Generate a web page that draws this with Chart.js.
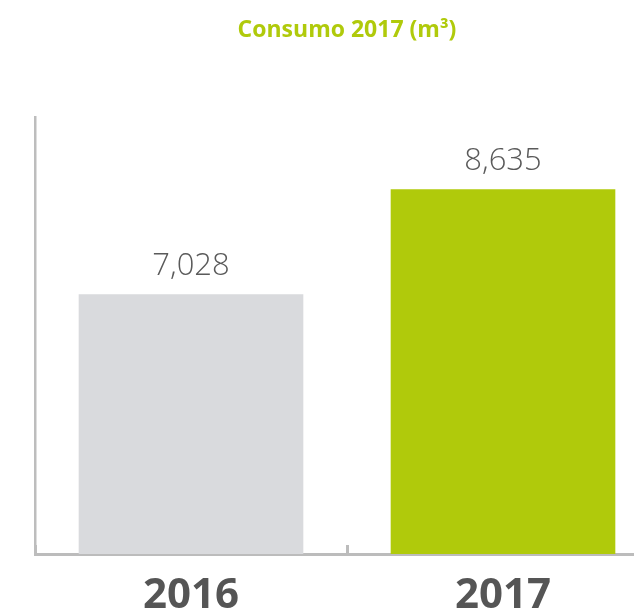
<!DOCTYPE html>
<html>
<head>
<meta charset="utf-8">
<script src="https://cdn.jsdelivr.net/npm/chart.js@4"></script>
<style>
  html, body { margin: 0; padding: 0; background: #fff; overflow: hidden; }
  #wrap { width: 634px; height: 610px; overflow: hidden; position: relative; }
  #wrap canvas { position: absolute; left: 0; top: 0; }
</style>
</head>
<body>
<div id="wrap"><canvas id="chart" width="680" height="610"></canvas></div>
<script>
const titleText = "Consumo 2017 (m³)";
const years = ["2016", "2017"];
const consumo = [7028, 8635];
const barColors = ["#d9dadd", "#b0ca0b"];

// title centred over the plot area + value labels over each bar
const overlay = {
  id: "overlay",
  afterDatasetsDraw(chart) {
    const { ctx, chartArea } = chart;
    ctx.save();
    ctx.textAlign = "center";
    ctx.textBaseline = "alphabetic";
    ctx.fillStyle = "#b0ca0b";
    ctx.font = "bold 23px 'Open Sans'";
    ctx.fillText(titleText, (chartArea.left + chartArea.right) / 2, 37);

    ctx.fillStyle = "#5a5a5a";
    ctx.font = "300 31px 'Open Sans'";
    chart.getDatasetMeta(0).data.forEach((bar, i) => {
      ctx.fillText(consumo[i].toLocaleString("en-US"), bar.x, bar.y - 19);
    });
    ctx.restore();
  }
};

new Chart(document.getElementById("chart"), {
  type: "bar",
  data: {
    labels: years,
    datasets: [{ data: consumo, backgroundColor: barColors, borderWidth: 0,
                 categoryPercentage: 1, barPercentage: 0.72 }]
  },
  options: {
    responsive: false,
    animation: false,
    layout: { padding: { top: 117, right: 21, left: 0, bottom: 0 } },
    plugins: { legend: { display: false }, tooltip: { enabled: false } },
    scales: {
      x: {
        offset: true,
        // negative tick length: the small separator tick points up into the plot
        grid: { display: true, offset: true, drawOnChartArea: false, drawTicks: true,
                tickLength: -9, color: "#bcbcbc", lineWidth: 3 },
        border: { display: true, color: "#bcbcbc", width: 3 },
        ticks: { color: "#555", font: { family: "'Open Sans'", size: 42, weight: "bold" }, padding: 26 },
        afterFit: s => { s.height = 56; }
      },
      y: {
        min: 3050,
        max: 9740,
        grid: { display: false },
        border: { display: true, color: "#bdbdbd", width: 2.5 },
        ticks: { display: false },
        afterFit: s => { s.width = 35; }
      }
    }
  },
  plugins: [overlay]
});
</script>
</body>
</html>
